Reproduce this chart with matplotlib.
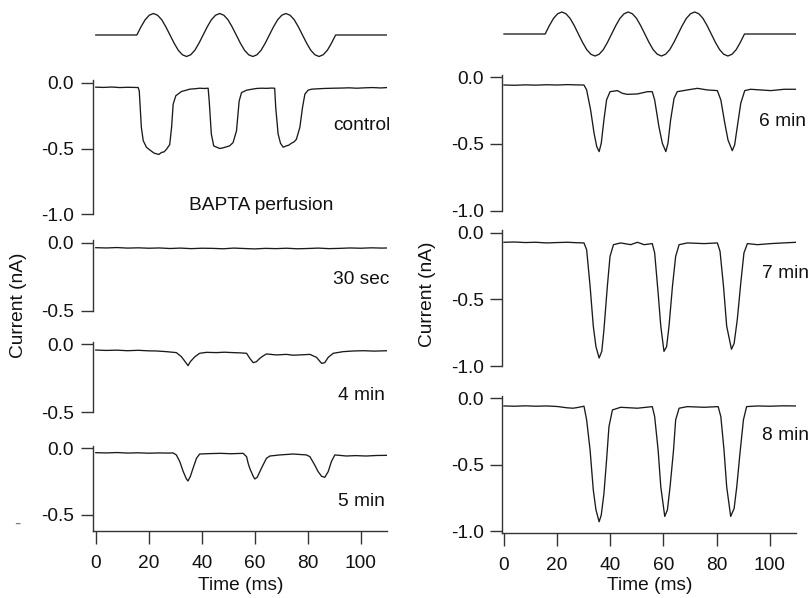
import matplotlib
matplotlib.use('Agg')
from matplotlib import pyplot as plt

plt.rcParams['font.family'] = ['Liberation Sans', 'DejaVu Sans']

W, H = 808, 598

# stimulus (3 cycles of 40 Hz sine, normalised)
stim_t = [0, 15.5, 17.06, 18.63, 20.19, 21.75, 23.31, 24.88, 26.44, 28.0, 29.56, 31.13, 32.69,
          34.25, 35.81, 37.38, 38.94, 40.5, 42.06, 43.63, 45.19, 46.75, 48.31, 49.88, 51.44,
          53.0, 54.56, 56.13, 57.69, 59.25, 60.81, 62.38, 63.94, 65.5, 67.06, 68.63, 70.19,
          71.75, 73.31, 74.88, 76.44, 78.0, 79.56, 81.13, 82.69, 84.25, 85.81, 87.38, 88.94,
          90.5, 110]
stim_v = [0, 0, 0.38, 0.71, 0.92, 1, 0.92, 0.71, 0.38, 0, -0.38, -0.71, -0.92,
          -1, -0.92, -0.71, -0.38, 0, 0.38, 0.71, 0.92, 1, 0.92, 0.71, 0.38,
          0, -0.38, -0.71, -0.92, -1, -0.92, -0.71, -0.38, 0, 0.38, 0.71, 0.92,
          1, 0.92, 0.71, 0.38, 0, -0.38, -0.71, -0.92, -1, -0.92, -0.71, -0.38,
          0, 0]

ctrl_t = [0, 3, 6, 9, 12, 14.5, 16.0, 16.4, 17.2, 17.9, 19.1, 20.0, 21.0, 22.0, 22.9, 23.8,
          24.8, 25.8, 26.7, 27.9, 28.6, 29.2, 30.2, 31.2, 32.3, 33.8, 35.5, 37.5, 39.2, 41.0,
          42.4, 42.8, 43.6, 44.5, 45.6, 46.8, 48.0, 49.3, 50.5, 51.8, 53.1, 54.1, 55.0, 56.9,
          58.5, 60.6, 62.5, 64.5, 66.3, 67.5, 67.9, 68.8, 69.7, 70.7, 71.9, 72.8, 73.8, 74.8,
          75.7, 77.0, 78.0, 78.9, 80.1, 81.5, 83.3, 86.0, 89.6, 92.5, 95.5, 98.5, 101.5, 104.5,
          107.5, 110]
ctrl_v = [-0.035, -0.037, -0.034, -0.038, -0.036, -0.037, -0.038, -0.063, -0.34, -0.44, -0.49,
          -0.505, -0.52, -0.535, -0.54, -0.545, -0.53, -0.525, -0.505, -0.47, -0.34, -0.164,
          -0.10, -0.085, -0.068, -0.06, -0.05, -0.047, -0.043, -0.045, -0.043, -0.14, -0.39,
          -0.48, -0.49, -0.50, -0.495, -0.487, -0.48, -0.455, -0.366, -0.14, -0.076, -0.058,
          -0.052, -0.045, -0.043, -0.044, -0.042, -0.043, -0.19, -0.39, -0.46, -0.49, -0.48,
          -0.475, -0.46, -0.45, -0.43, -0.34, -0.19, -0.088, -0.058, -0.05, -0.048, -0.045,
          -0.043, -0.042, -0.04, -0.043, -0.04, -0.038, -0.041, -0.038]

sec30_t = [0, 4, 8, 12, 16, 20, 24, 28, 32, 36, 40, 44, 48, 52, 56, 60, 64, 68, 72, 76, 80,
           84, 88, 92, 96, 100, 104, 108, 110]
sec30_v = [-0.038, -0.040, -0.037, -0.041, -0.039, -0.042, -0.040, -0.044, -0.041, -0.045,
           -0.042, -0.043, -0.046, -0.041, -0.044, -0.047, -0.043, -0.045, -0.042, -0.046,
           -0.044, -0.041, -0.045, -0.043, -0.040, -0.042, -0.039, -0.041, -0.040]

min4_t = [0, 4, 8, 12, 16, 20, 22.9, 26.7, 30.4, 32.3, 34.2, 34.8, 35.7, 37.4, 39.2, 41.8,
          45.5, 48.5, 51.8, 54.5, 56.9, 58.1, 59.4, 60.6, 61.9, 63.1, 64.4, 68.2, 71.9, 74.5,
          77.0, 80.8, 83.3, 85.2, 86.4, 87.7, 89.6, 93.3, 97.1, 101, 105, 110]
min4_v = [-0.042, -0.045, -0.043, -0.047, -0.044, -0.048, -0.049, -0.054, -0.061, -0.091,
          -0.14, -0.157, -0.127, -0.091, -0.066, -0.059, -0.061, -0.058, -0.061, -0.063,
          -0.066, -0.103, -0.135, -0.128, -0.103, -0.086, -0.071, -0.078, -0.074, -0.080,
          -0.078, -0.074, -0.096, -0.14, -0.135, -0.096, -0.066, -0.054, -0.049, -0.047,
          -0.050, -0.047]

min5_t = [0, 4, 8, 12, 16, 20, 24, 27, 29.2, 30.4, 31.7, 33.0, 34.2, 34.8, 35.7, 36.7, 38.0,
          39.2, 43, 47, 51, 55.6, 56.9, 57.5, 58.1, 59.4, 60.0, 60.9, 62.5, 64.4, 65.7, 69.4,
          74.5, 79.5, 80.8, 82.6, 83.9, 85.2, 86.4, 87.7, 88.9, 90.2, 94.6, 98, 102.1, 106, 110]
min5_v = [-0.033, -0.035, -0.032, -0.036, -0.034, -0.037, -0.035, -0.036, -0.035, -0.05,
          -0.10, -0.175, -0.23, -0.245, -0.21, -0.15, -0.075, -0.043, -0.040, -0.038, -0.041,
          -0.038, -0.063, -0.113, -0.15, -0.21, -0.23, -0.218, -0.15, -0.075, -0.058, -0.05,
          -0.043, -0.05, -0.063, -0.125, -0.175, -0.21, -0.218, -0.175, -0.10, -0.05, -0.058,
          -0.055, -0.058, -0.054, -0.053]

min6_t = [0, 4, 8, 12, 16, 20, 24, 27, 30.1, 31.1, 32.6, 33.9, 34.9, 35.8, 36.6, 37.6, 38.6,
          39.9, 42.7, 44.5, 46.4, 50.2, 54.0, 55.8, 56.7, 58.3, 59.6, 60.9, 61.7, 62.7, 64.0,
          65.2, 69.0, 72.8, 76.5, 80.3, 81.6, 83.1, 84.3, 85.9, 86.8, 87.8, 89.1, 90.6, 92.8,
          96.6, 100.4, 105.4, 110]
min6_v = [-0.058, -0.060, -0.057, -0.059, -0.056, -0.058, -0.055, -0.057, -0.058, -0.095,
          -0.245, -0.42, -0.52, -0.557, -0.495, -0.32, -0.17, -0.108, -0.10, -0.12, -0.128,
          -0.125, -0.108, -0.108, -0.17, -0.37, -0.495, -0.557, -0.495, -0.32, -0.158, -0.108,
          -0.095, -0.083, -0.095, -0.10, -0.17, -0.345, -0.47, -0.55, -0.507, -0.37, -0.195,
          -0.10, -0.09, -0.095, -0.10, -0.09, -0.09]

min7_t = [0, 4, 8, 12, 16, 20, 24, 27, 30.1, 31.1, 32.4, 33.6, 34.6, 35.8, 36.8, 37.6, 38.9,
          39.9, 41.2, 43.9, 47.7, 50.2, 52.7, 55.8, 56.7, 58.0, 59.0, 60.2, 61.2, 62.1, 63.4,
          64.6, 65.9, 69.0, 75.3, 80.3, 81.3, 82.6, 83.8, 85.6, 86.6, 87.8, 89.1, 90.3, 91.6,
          95.4, 100.4, 105, 110]
min7_v = [-0.07, -0.068, -0.072, -0.07, -0.075, -0.072, -0.07, -0.073, -0.075, -0.126, -0.40,
          -0.70, -0.854, -0.94, -0.89, -0.73, -0.40, -0.176, -0.088, -0.075, -0.088, -0.07,
          -0.088, -0.08, -0.15, -0.45, -0.70, -0.89, -0.854, -0.70, -0.40, -0.176, -0.088,
          -0.075, -0.08, -0.075, -0.138, -0.40, -0.70, -0.874, -0.83, -0.65, -0.377, -0.15,
          -0.08, -0.088, -0.08, -0.075, -0.07]

min8_t = [0, 4, 8, 12, 16, 20, 23.8, 26, 27.6, 30.1, 31.1, 32.4, 33.6, 34.6, 35.8, 36.6, 37.6,
          38.6, 39.5, 40.8, 43.9, 50.2, 55.8, 56.7, 58.0, 59.0, 60.5, 61.5, 62.5, 63.8, 64.6,
          65.9, 69.0, 75.3, 80.6, 81.6, 82.8, 83.8, 85.3, 86.6, 87.6, 88.8, 90.1, 91.3, 95.4,
          100, 105, 110]
min8_v = [-0.058, -0.06, -0.057, -0.06, -0.058, -0.062, -0.072, -0.075, -0.07, -0.06, -0.163,
          -0.39, -0.69, -0.84, -0.93, -0.88, -0.72, -0.465, -0.214, -0.088, -0.068, -0.075,
          -0.063, -0.138, -0.39, -0.666, -0.89, -0.84, -0.666, -0.39, -0.163, -0.075, -0.063,
          -0.068, -0.063, -0.138, -0.39, -0.666, -0.89, -0.83, -0.666, -0.415, -0.163, -0.063,
          -0.058, -0.06, -0.057, -0.058]

xticks = [0, 20, 40, 60, 80, 100]
FS = 13.8
LC = '#1a1a1a'
SC = '#333333'
TC = '#111111'

fig = plt.figure(figsize=(W / 100, H / 100), dpi=100)


def px_axes(left, top, right, bottom):
    return fig.add_axes([left / W, 1 - bottom / H, (right - left) / W, (bottom - top) / H])


def ftext(x, y, s, color=TC, **kw):
    fig.text(x / W, 1 - y / H, s, fontsize=FS, color=color, **kw)


def stim_panel(box, xlim):
    ax = px_axes(*box)
    ax.plot(stim_t, stim_v, color=LC, lw=0.95)
    ax.set_xlim(xlim)
    ax.set_ylim(-1.1, 1.1)
    ax.axis('off')


def trace_panel(box, xlim, ylim, yticks, t, v, bottom=False):
    ax = px_axes(*box)
    ax.plot(t, v, color=LC, lw=0.95)
    ax.set_xlim(xlim)
    ax.set_ylim(ylim)
    ax.patch.set_alpha(0)
    for s in ['top', 'right']:
        ax.spines[s].set_visible(False)
    for s in ['left', 'bottom']:
        ax.spines[s].set_color(SC)
        ax.spines[s].set_linewidth(1.0)
    ax.set_yticks(yticks)
    ax.set_yticklabels(['%.1f' % y for y in yticks])
    ax.tick_params(axis='y', direction='out', length=8.5, width=1, color=SC, pad=5,
                   labelsize=FS, labelcolor=TC)
    if bottom:
        ax.set_xticks(xticks)
        ax.set_xticklabels([str(x) for x in xticks])
        ax.tick_params(axis='x', direction='out', length=9, width=1, color=SC, pad=8,
                       labelsize=FS, labelcolor=TC)
    else:
        ax.spines['bottom'].set_visible(False)
        ax.set_xticks([])
    return ax


xl1 = (-1.2, 110)
xl2 = (-0.6, 110)
L1, R1 = 92.6, 387.3
L2, R2 = 502.4, 796.3

stim_panel((L1, 11.35, R1, 58.65), xl1)
stim_panel((L2, 9.8, R2, 58.2), xl2)

trace_panel((L1, 79.9, R1, 214.5), xl1, (-1.0, 0.02), [0.0, -0.5, -1.0], ctrl_t, ctrl_v)
trace_panel((L1, 239.8, R1, 310.5), xl1, (-0.5, 0.02), [0.0, -0.5], sec30_t, sec30_v)
trace_panel((L1, 341.6, R1, 412.3), xl1, (-0.5, 0.02), [0.0, -0.5], min4_t, min4_v)
trace_panel((L1, 445.6, R1, 531.0), xl1, (-0.62, 0.02), [0.0, -0.5], min5_t, min5_v, bottom=True)

trace_panel((L2, 74.6, R2, 210.7), xl2, (-1.0, 0.02), [0.0, -0.5, -1.0], min6_t, min6_v)
trace_panel((L2, 230.3, R2, 366.0), xl2, (-1.0, 0.02), [0.0, -0.5, -1.0], min7_t, min7_v)
trace_panel((L2, 395.6, R2, 533.3), xl2, (-1.017, 0.02), [0.0, -0.5, -1.0], min8_t, min8_v, bottom=True)

ftext(391, 126, 'control', ha='right', va='center')
ftext(261, 206, 'BAPTA perfusion', ha='center', va='center')
ftext(389, 279, '30 sec', ha='right', va='center')
ftext(385, 396, '4 min', ha='right', va='center')
ftext(385, 502, '5 min', ha='right', va='center')
ftext(759, 121, '6 min', ha='left', va='center')
ftext(762, 273, '7 min', ha='left', va='center')
ftext(762, 436, '8 min', ha='left', va='center')
ftext(19, 305, 'Current (nA)', ha='center', va='center', rotation=90)
ftext(427, 294, 'Current (nA)', ha='center', va='center', rotation=90)
ftext(241, 586, 'Time (ms)', ha='center', va='center')
ftext(650, 586, 'Time (ms)', ha='center', va='center')
ftext(17, 524, '-', color='#777777', ha='center', va='center')

fig.savefig('out.png', dpi=100)
